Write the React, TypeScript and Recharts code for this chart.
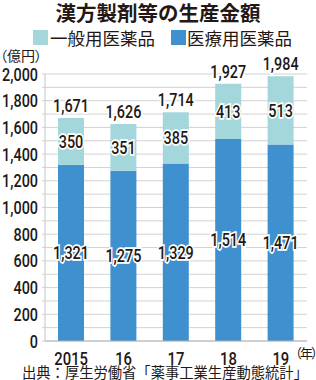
import { BarChart, Bar, XAxis, YAxis, CartesianGrid, LabelList } from 'recharts';

// 漢方製剤等の生産金額（億円）
const years = ['2015', '16', '17', '18', '19'];
const ethicalValues = [1321, 1275, 1329, 1514, 1471]; // 医療用医薬品
const otcValues = [350, 351, 385, 413, 513]; // 一般用医薬品
const totalValues = [1671, 1626, 1714, 1927, 1984];
const yTicks = [0, 100, 200, 300, 400, 500, 600, 700, 800, 900, 1000, 1100, 1200, 1300, 1400, 1500, 1600, 1700, 1800, 1900, 2000];

const data = years.map((year, i) => ({
  year,
  ethical: ethicalValues[i],
  otc: otcValues[i],
  total: totalValues[i],
  edge: i,
}));
const edgeTicks = [...years.map((_, i) => i), years.length];

const NUM_FONT = "Roboto, 'Liberation Sans', sans-serif";
const JP_FONT = "'Noto Sans CJK JP', sans-serif";
const INK = '#231815';
const LIGHT = '#a4d7dc';
const BLUE = '#3f90cf';
const GRID = '#d2d2d2';

const fmt = (v: number) => v.toLocaleString('en-US');

// digits in the reference are a condensed gothic, so squeeze Roboto horizontally
const NarrowText = ({ x, y, anchor = 'middle', size = 18, halo = false, children }: any) => (
  <text
    transform={`translate(${x},${y}) scale(0.8,1)`}
    textAnchor={anchor}
    fontSize={size}
    fontWeight={500}
    fontFamily={NUM_FONT}
    fill={INK}
    stroke={halo ? '#fff' : 'none'}
    strokeWidth={halo ? 3.5 : 0}
    style={{ paintOrder: 'stroke' }}
  >
    {children}
  </text>
);

const CenterLabel = (props: any) => {
  const { x, y, width, height, value } = props;
  return <NarrowText x={x + width / 2} y={y + height / 2 + 6.5} halo>{fmt(value)}</NarrowText>;
};

const TopLabel = (props: any) => {
  const { x, y, width, value } = props;
  return <NarrowText x={x + width / 2} y={y - 6} halo>{fmt(value)}</NarrowText>;
};

const YTick = (props: any) => {
  const { x, y, payload } = props;
  if (payload.value % 200 !== 0) return <g />;
  return <NarrowText x={x} y={y + 6.5} anchor="end">{fmt(payload.value)}</NarrowText>;
};

const XTick = (props: any) => {
  const { x, y, payload } = props;
  return <NarrowText x={x} y={y + 14} size={18.5}>{payload.value}</NarrowText>;
};

const EmptyTick = () => <g />;

export default function App() {
  return (
    <div style={{ position: 'absolute', left: 0, top: 0, width: 316, height: 380, background: '#fff', overflow: 'hidden' }}>
      <div style={{ position: 'absolute', left: 0, top: 0, width: 316, textAlign: 'center', fontFamily: JP_FONT, fontWeight: 700, fontSize: 20.5, color: INK, lineHeight: '24px' }}>
        漢方製剤等の生産金額
      </div>

      {/* Legend */}
      <div style={{ position: 'absolute', left: 33, top: 30, width: 15, height: 15, background: LIGHT }} />
      <div style={{ position: 'absolute', left: 50, top: 26, fontFamily: JP_FONT, fontSize: 17.5, color: INK, lineHeight: '24px' }}>
        一般用医薬品
      </div>
      <div style={{ position: 'absolute', left: 171, top: 30, width: 15, height: 15, background: BLUE }} />
      <div style={{ position: 'absolute', left: 187, top: 26, fontFamily: JP_FONT, fontSize: 17.5, color: INK, lineHeight: '24px' }}>
        医療用医薬品
      </div>

      <div style={{ position: 'absolute', left: 0, top: 46, fontFamily: JP_FONT, fontSize: 14, color: INK, lineHeight: '18px', fontFeatureSettings: '"palt"', whiteSpace: 'nowrap' }}>
        （億円）
      </div>

      <BarChart
        width={316}
        height={380}
        data={data}
        margin={{ top: 74, right: 9, bottom: 19, left: 0 }}
        style={{ position: 'absolute', left: 0, top: 0 }}
      >
        <CartesianGrid vertical={false} stroke={GRID} strokeWidth={1} />
        <XAxis
          xAxisId="edge"
          dataKey="edge"
          type="number"
          domain={[0, years.length]}
          ticks={edgeTicks}
          tick={<EmptyTick />}
          axisLine={false}
          tickSize={4}
          tickLine={{ stroke: '#b5b5b5' }}
          height={0}
          allowDataOverflow
        />
        <XAxis
          dataKey="year"
          tickLine={false}
          axisLine={{ stroke: '#b5b5b5' }}
          tickMargin={4}
          height={20}
          tick={<XTick />}
        />
        <YAxis
          width={45}
          domain={[0, 2000]}
          ticks={yTicks}
          interval={0}
          tickSize={3}
          tickMargin={4}
          tickLine={{ stroke: GRID }}
          axisLine={{ stroke: '#c4c4c4' }}
          tick={<YTick />}
        />
        <Bar dataKey="ethical" stackId="a" fill={BLUE} barSize={26} isAnimationActive={false}>
          <LabelList dataKey="ethical" content={<CenterLabel />} />
        </Bar>
        <Bar dataKey="otc" stackId="a" fill={LIGHT} barSize={26} isAnimationActive={false}>
          <LabelList dataKey="otc" content={<CenterLabel />} />
          <LabelList dataKey="total" content={<TopLabel />} />
        </Bar>
      </BarChart>

      <div style={{ position: 'absolute', left: 295, top: 345, fontFamily: JP_FONT, fontSize: 13, color: INK, lineHeight: '16px', fontFeatureSettings: '"palt"', letterSpacing: -1.5, whiteSpace: 'nowrap' }}>
        （年）
      </div>
      <div style={{ position: 'absolute', left: 22, top: 365, fontFamily: JP_FONT, fontSize: 14.3, color: INK, lineHeight: '14px', whiteSpace: 'nowrap' }}>
        出典：厚生労働省「薬事工業生産動態統計」
      </div>
    </div>
  );
}
